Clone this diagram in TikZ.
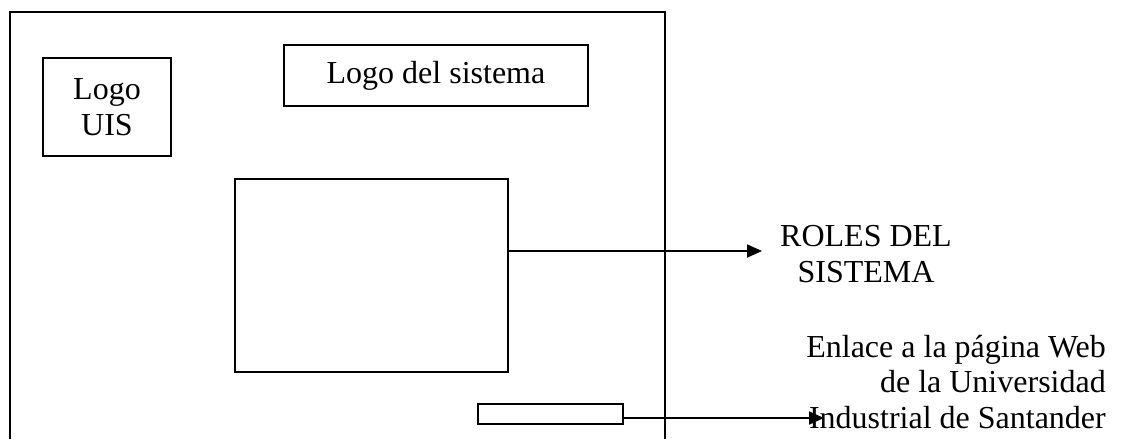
\documentclass[tikz,border=0pt]{standalone}
\usepackage{fontspec}
\setmainfont{Liberation Serif}
\usetikzlibrary{arrows.meta}
\tikzset{
  boxline/.style={draw, line width=1.3pt},
  txt/.style={font=\fontsize{32}{35.5}\selectfont, inner sep=0pt, align=center},
  pointer/.style={line width=1.8pt, -{Triangle[length=15pt,width=13pt]}}
}
\begin{document}
\begin{tikzpicture}[x=1pt,y=-1pt]
  \useasboundingbox (0,0) rectangle (1124,439);
  \draw[boxline] (10,439) -- (10,12) -- (665,12) -- (665,439);
  \draw
    (107,107) node[boxline, txt, minimum width=128pt, minimum height=98pt] (uis) {Logo\\UIS}
    (436,75.5) node[boxline, txt, minimum width=304pt, minimum height=61pt] (sysLogo) {Logo del sistema}
    (371.5,275.5) node[boxline, minimum width=273pt, minimum height=193pt] (panel) {}
    (550.5,414) node[boxline, minimum width=145pt, minimum height=20pt, inner sep=0pt] (link) {}
    (866,254) node[txt] (roles) {ROLES DEL\\SISTEMA}
    (1106,382) node[txt, align=right, anchor=east] (enlace) {Enlace a la página Web\\de la Universidad\\Industrial de Santander};
  \coordinate (rolesTip) at (762,251);
  \coordinate (linkTip) at (824,418);
  \begin{scope}[pointer]
    \draw (panel.east |- rolesTip) -- (rolesTip);
    \draw (link.east |- linkTip) -- (linkTip);
  \end{scope}
\end{tikzpicture}
\end{document}
